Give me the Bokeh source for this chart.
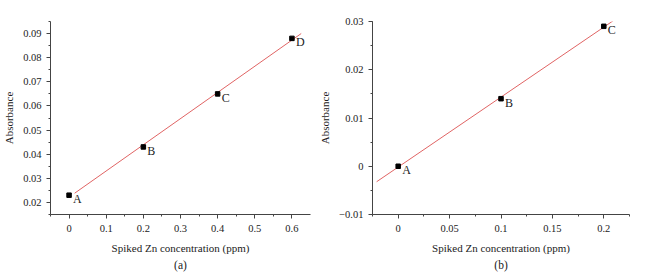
from bokeh.plotting import figure
from bokeh.layouts import row
from bokeh.models import (Range1d, SingleIntervalTicker, CustomJSTickFormatter,
                          ColumnDataSource, Whisker, Title, LabelSet)
from bokeh.embed import file_html
from bokeh.resources import INLINE
import numpy as np

# Panel (a)
a_x = [0.0, 0.2, 0.4, 0.6]
a_y = [0.023, 0.043, 0.065, 0.088]
a_err = [0.0003, 0.0003, 0.0004, 0.0007]
a_labels = ["A", "B", "C", "D"]
a_fit_x = [0.015, 0.625]

# Panel (b)
b_x = [0.0, 0.1, 0.2]
b_y = [0.0, 0.014, 0.029]
b_err = [0.0003, 0.0003, 0.0003]
b_labels = ["A", "B", "C"]
b_fit_x = [-0.021, 0.21]

FONT = "Liberation Serif"
AX = "#444444"
TXT = "#222222"
RED = "#e06464"

fmt = CustomJSTickFormatter(code="""
var s = parseFloat(tick.toFixed(4)).toString();
return s.replace('-', '\u2212');
""")


def make_panel(xs, ys, errs, labels, fit_x, xr, yr, xint, yint, tag,
               width, bl, br, bt):
    p = figure(width=width, height=275, output_backend="svg",
               toolbar_location=None, x_range=Range1d(*xr), y_range=Range1d(*yr),
               min_border_left=bl, min_border_right=br, min_border_top=bt,
               min_border_bottom=61)
    p.outline_line_color = None
    p.xgrid.grid_line_color = None
    p.ygrid.grid_line_color = None
    p.background_fill_color = "white"
    p.border_fill_color = "white"

    p.xaxis.ticker = SingleIntervalTicker(interval=xint, num_minor_ticks=2)
    p.yaxis.ticker = SingleIntervalTicker(interval=yint, num_minor_ticks=2)
    for ax in (p.xaxis[0], p.yaxis[0]):
        ax.formatter = fmt
        ax.axis_line_color = AX
        ax.major_tick_line_color = AX
        ax.minor_tick_line_color = AX
        ax.major_tick_out = 4
        ax.major_tick_in = 0
        ax.minor_tick_out = 2
        ax.minor_tick_in = 0
        ax.major_label_text_font = FONT
        ax.major_label_text_font_size = "10.5px"
        ax.major_label_text_color = TXT
        ax.axis_label_text_font = FONT
        ax.axis_label_text_font_size = "11px"
        ax.axis_label_text_font_style = "normal"
        ax.axis_label_text_color = TXT
    p.xaxis.axis_label = "Spiked Zn concentration (ppm)"
    p.yaxis.axis_label = "Absorbance"
    p.xaxis.major_label_standoff = 6
    p.yaxis.major_label_standoff = 5
    p.xaxis.axis_label_standoff = 7
    p.yaxis.axis_label_standoff = 5

    # fit line computed from data
    slope, icpt = np.polyfit(xs, ys, 1)
    fx = np.array(fit_x)
    p.line(fx, slope * fx + icpt, line_color=RED, line_width=1)

    src = ColumnDataSource(dict(x=xs, y=ys, lo=[y - e for y, e in zip(ys, errs)],
                                hi=[y + e for y, e in zip(ys, errs)], t=labels))
    p.add_layout(Whisker(source=src, base="x", lower="lo", upper="hi",
                         line_color="black", line_width=1,
                         upper_head=None, lower_head=None))
    p.scatter("x", "y", source=src, marker="square", size=4.5,
              fill_color="black", line_color="black")
    p.add_layout(LabelSet(x="x", y="y", text="t", source=src, x_offset=4,
                          y_offset=-11, text_font=FONT, text_font_size="12px",
                          text_color=TXT))

    t = Title(text=tag, align="center", text_font=FONT, text_font_size="11.5px",
              text_font_style="normal", text_color=TXT, standoff=0)
    p.add_layout(t, "below")
    return p


pa = make_panel(a_x, a_y, a_err, a_labels, a_fit_x, (-0.05, 0.65),
                (0.015, 0.095), 0.1, 0.01, "(a)", 316, 49, 6, 21)
pb = make_panel(b_x, b_y, b_err, b_labels, b_fit_x, (-0.025, 0.225),
                (-0.01, 0.03), 0.05, 0.01, "(b)", 331, 53, 18, 20)

layout = row(pa, pb, spacing=0)
open("out.html", "w").write(file_html(layout, INLINE))
